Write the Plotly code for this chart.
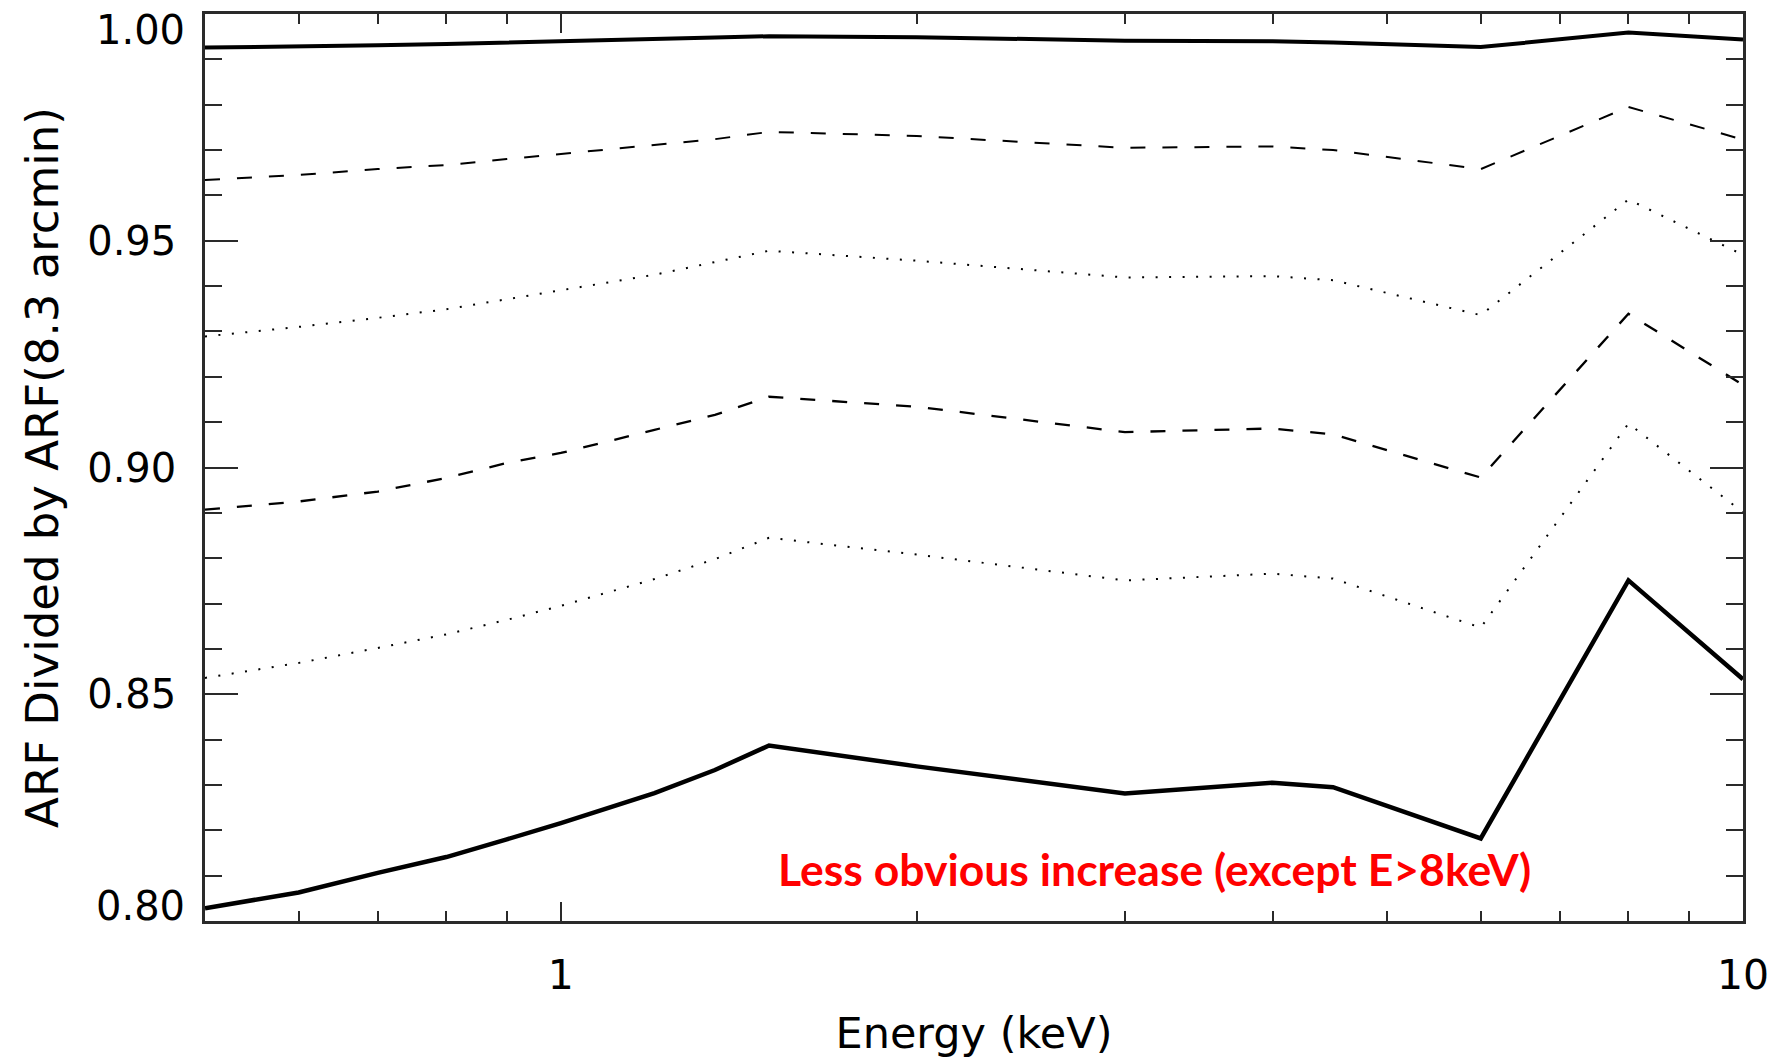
import numpy as np
import plotly.graph_objects as go

# ---------------- data ----------------
energy_kev = [0.5, 0.6, 0.7, 0.8, 0.9, 1.0, 1.2, 1.35, 1.5, 2.0, 3.0, 4.0, 4.5, 6.0, 8.0, 10.0]

ratio_solid_top = [0.9926, 0.9928, 0.9931, 0.9934, 0.9937, 0.9939, 0.9943, 0.9948, 0.9951,
                   0.9949, 0.9941, 0.9940, 0.9937, 0.9927, 0.9959, 0.9944]
ratio_dash_top = [0.9634, 0.9645, 0.9658, 0.9667, 0.9680, 0.9691, 0.9711, 0.9724, 0.9740,
                  0.9731, 0.9705, 0.9708, 0.9700, 0.9658, 0.9795, 0.9723]
ratio_dot_top = [0.9289, 0.9310, 0.9330, 0.9349, 0.9371, 0.9391, 0.9425, 0.9453, 0.9478,
                 0.9456, 0.9419, 0.9422, 0.9413, 0.9336, 0.9591, 0.9469]
ratio_dash_low = [0.8907, 0.8925, 0.8947, 0.8977, 0.9010, 0.9032, 0.9083, 0.9116, 0.9156,
                  0.9134, 0.9078, 0.9086, 0.9073, 0.8978, 0.9339, 0.9182]
ratio_dot_low = [0.8536, 0.8569, 0.8602, 0.8632, 0.8664, 0.8695, 0.8754, 0.8798, 0.8845,
                 0.8808, 0.8751, 0.8766, 0.8755, 0.8647, 0.9097, 0.8901]
ratio_solid_low = [0.8028, 0.8063, 0.8106, 0.8141, 0.8180, 0.8216, 0.8282, 0.8333, 0.8387,
                   0.8341, 0.8281, 0.8305, 0.8295, 0.8182, 0.8751, 0.8533]

y_tick_values = [0.80, 0.85, 0.90, 0.95, 1.00]
y_tick_labels = ["0.80", "0.85", "0.90", "0.95", "1.00"]
y_minor_values = [0.81, 0.82, 0.83, 0.84, 0.86, 0.87, 0.88, 0.89,
                  0.91, 0.92, 0.93, 0.94, 0.96, 0.97, 0.98, 0.99]
x_tick_values = [1, 10]
x_tick_labels = ["1", "10"]
x_minor_values = [0.6, 0.7, 0.8, 0.9, 2, 3, 4, 5, 6, 7, 8, 9]

x_title = "Energy (keV)"
y_title = "ARF Divided by ARF(8.3 arcmin)"
note_text = "Less obvious increase (except E>8keV)"

# ---------------- figure ----------------
FONT = "DejaVu Sans"
series = [
    (ratio_solid_top, "solid", 4),
    (ratio_dash_top, "15px,17px", 2),
    (ratio_dot_top, "2px,11.5px", 2),
    (ratio_dash_low, "15px,17px", 2.3),
    (ratio_dot_low, "2px,11.5px", 2),
    (ratio_solid_low, "solid", 4.5),
]

fig = go.Figure()
for vals, dash, w in series:
    fig.add_trace(go.Scatter(
        x=energy_kev, y=vals, mode="lines",
        line=dict(color="black", width=w, dash=dash),
        showlegend=False, hoverinfo="skip",
    ))

axis_line = "#2a2a2a"
fig.update_xaxes(
    type="log", range=[np.log10(0.5), 1.0],
    showgrid=False, zeroline=False,
    showline=True, linecolor=axis_line, linewidth=2.5, mirror="allticks",
    ticks="inside", ticklen=19, tickwidth=2, tickcolor=axis_line,
    tickmode="array", tickvals=x_tick_values, ticktext=x_tick_labels,
    tickfont=dict(family=FONT, size=41, color="black"),
    ticklabelstandoff=16,
    minor=dict(ticks="inside", ticklen=10, tickwidth=2, tickcolor=axis_line,
               tickmode="array", tickvals=x_minor_values, showgrid=False),
    title=dict(text=x_title, font=dict(family=FONT, size=43, color="black"), standoff=20),
)

mid = slice(1, 4)
fig.update_yaxes(
    range=[0.80, 1.00],
    showgrid=False, zeroline=False,
    showline=True, linecolor=axis_line, linewidth=2.5, mirror="allticks",
    ticks="inside", ticklen=33, tickwidth=2, tickcolor=axis_line,
    tickmode="array", tickvals=y_tick_values, ticktext=["", *y_tick_labels[mid], ""],
    tickfont=dict(family=FONT, size=40, color="black"),
    ticklabelstandoff=18,
    minor=dict(ticks="inside", ticklen=17, tickwidth=2, tickcolor=axis_line,
               tickmode="array", tickvals=y_minor_values, showgrid=False),
    title=dict(text=y_title, font=dict(family=FONT, size=45, color="black"), standoff=15),
)

# end labels of the y axis are nudged inside the frame, as in the original
for val, lab, shift in [(y_tick_values[0], y_tick_labels[0], 15),
                        (y_tick_values[-1], y_tick_labels[-1], -16)]:
    fig.add_annotation(
        x=0, xref="paper", y=val, yref="y", xanchor="right", yanchor="middle",
        xshift=-18, yshift=shift, text=lab, showarrow=False,
        font=dict(family=FONT, size=40, color="black"),
    )

fig.add_annotation(
    x=0.6174, xref="paper", y=0.058, yref="paper",
    xanchor="center", yanchor="middle",
    text="<b>" + note_text + "</b>", showarrow=False,
    font=dict(family="Lato", size=44.5, color="#ff0000"),
)

fig.update_layout(
    width=1786, height=1061,
    margin=dict(l=205, r=43, t=11, b=140),
    paper_bgcolor="white", plot_bgcolor="white",
)

fig.write_html("out.html")
